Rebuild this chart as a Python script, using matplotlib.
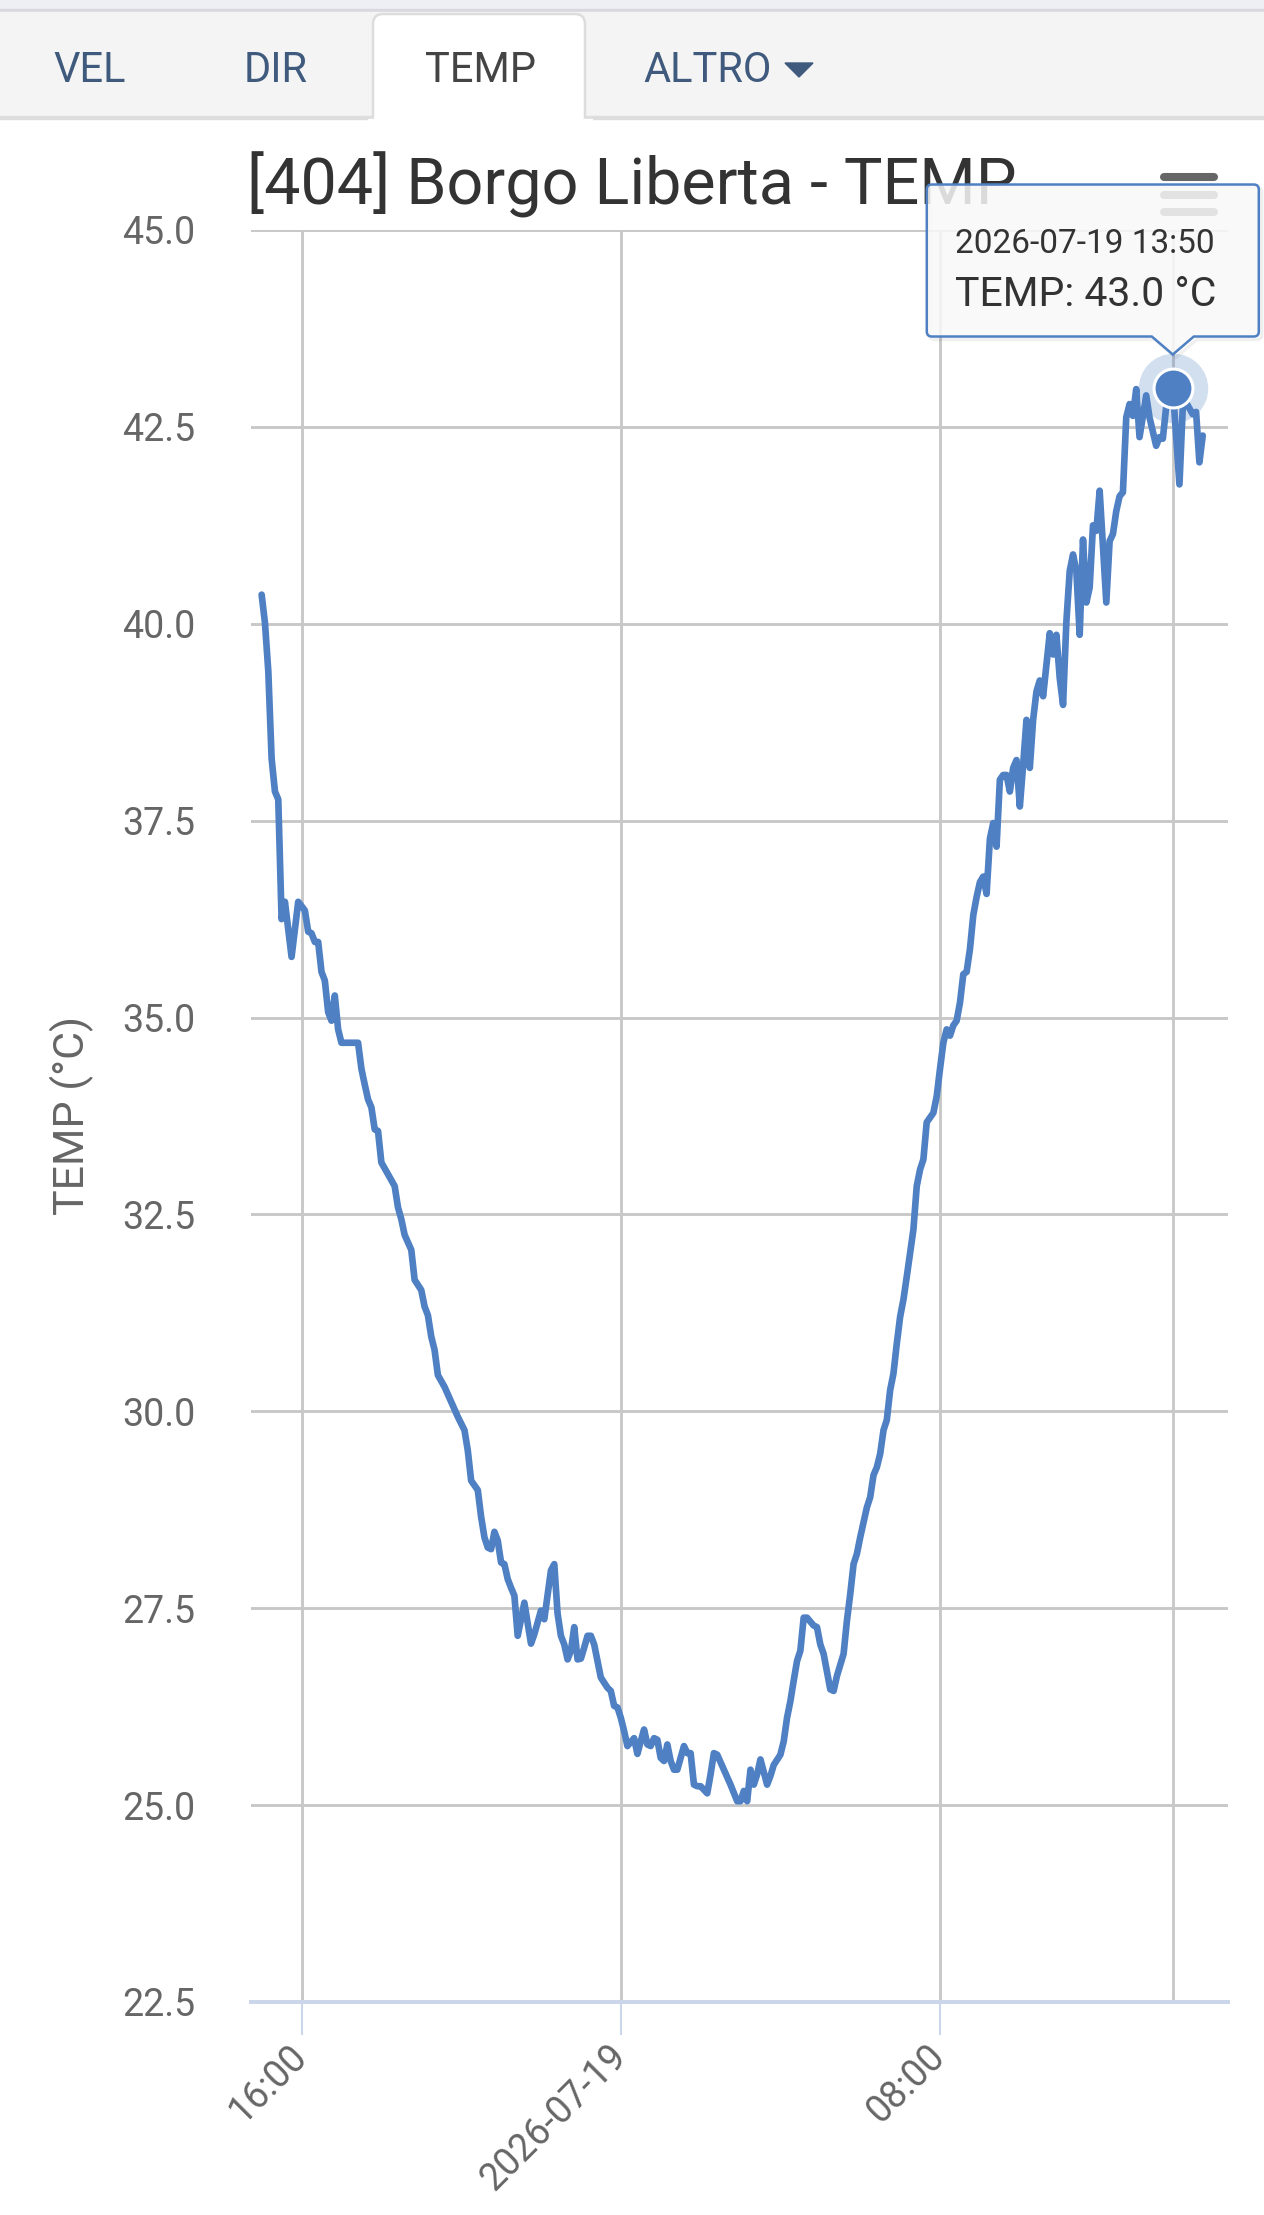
import datetime as dt
import matplotlib
matplotlib.use('Agg')
import matplotlib.pyplot as plt
import matplotlib.dates as mdates
from matplotlib.path import Path
from matplotlib.patches import PathPatch, Rectangle, FancyBboxPatch, Polygon

plt.rcParams['font.family'] = ['Roboto', 'DejaVu Sans']

# dati
station = '[404] Borgo Liberta'
variable = 'TEMP'
unit = '°C'
tabs = ['VEL', 'DIR', 'TEMP', 'ALTRO']
start_day = dt.date(2026, 7, 18)

times = ['15:00', '15:05', '15:10', '15:15', '15:20', '15:25', '15:30', '15:35', '15:45', '15:55',
         '16:05', '16:10', '16:15', '16:20', '16:25', '16:30', '16:35', '16:40', '16:45', '16:50', '16:55',
         '17:00', '17:25', '17:30', '17:35', '17:40', '17:45', '17:50', '17:55',
         '18:00', '18:10', '18:20', '18:25', '18:30', '18:35', '18:45', '18:50',
         '19:00', '19:05', '19:10', '19:15', '19:20', '19:25', '19:35', '19:45', '19:55',
         '20:05', '20:10', '20:15', '20:25', '20:30', '20:35', '20:40', '20:45', '20:50', '20:55',
         '21:00', '21:05', '21:10', '21:15', '21:20', '21:25', '21:35', '21:45', '21:50',
         '22:00', '22:05', '22:15', '22:20', '22:25', '22:30', '22:35', '22:40', '22:45', '22:50', '22:55',
         '23:00', '23:05', '23:10', '23:15', '23:20', '23:25', '23:30', '23:40', '23:45', '23:50', '23:55',
         '00:00', '00:05', '00:10', '00:20', '00:25', '00:30', '00:35', '00:40', '00:45', '00:50', '00:55',
         '01:00', '01:05', '01:10', '01:15', '01:20', '01:25', '01:30', '01:35', '01:40', '01:45', '01:50', '01:55',
         '02:00', '02:10', '02:15', '02:20', '02:25', '02:35', '02:45', '02:55',
         '03:00', '03:05', '03:10', '03:15', '03:20', '03:25', '03:30', '03:40', '03:45', '03:50',
         '04:00', '04:05', '04:10', '04:15', '04:20', '04:25', '04:30', '04:35', '04:40', '04:50', '04:55',
         '05:00', '05:05', '05:15', '05:20', '05:25', '05:35', '05:40', '05:45', '05:50', '05:55',
         '06:00', '06:10', '06:15', '06:20', '06:25', '06:30', '06:35', '06:40', '06:45', '06:50', '06:55',
         '07:00', '07:05', '07:10', '07:15', '07:20', '07:25', '07:30', '07:35', '07:40', '07:50', '07:55',
         '08:00', '08:05', '08:10', '08:15', '08:20', '08:25', '08:30', '08:35', '08:40', '08:45', '08:50', '08:55',
         '09:00', '09:05', '09:10', '09:15', '09:20', '09:25', '09:30', '09:35', '09:40', '09:45', '09:50', '09:55',
         '10:00', '10:05', '10:10', '10:15', '10:20', '10:25', '10:30', '10:35', '10:40', '10:45', '10:50', '10:55',
         '11:00', '11:05', '11:10', '11:15', '11:20', '11:25', '11:30', '11:35', '11:40', '11:45', '11:50', '11:55',
         '12:00', '12:10', '12:15', '12:20', '12:25', '12:30', '12:35', '12:40', '12:45', '12:50', '12:55',
         '13:00', '13:10', '13:15', '13:25', '13:30', '13:35', '13:40', '13:45', '13:50',
         '14:00', '14:05', '14:10', '14:20', '14:25', '14:30', '14:35']
temps = [40.37, 40.01, 39.40, 38.29, 37.87, 37.77, 36.25, 36.47, 35.77, 36.47,
         36.36, 36.09, 36.07, 35.96, 35.96, 35.58, 35.47, 35.07, 34.96, 35.28, 34.85,
         34.68, 34.68, 34.35, 34.15, 33.96, 33.86, 33.58, 33.56,
         33.16, 33.01, 32.86, 32.59, 32.44, 32.24, 32.05, 31.67,
         31.54, 31.33, 31.22, 30.95, 30.78, 30.46, 30.31, 30.12, 29.93,
         29.76, 29.50, 29.12, 29.00, 28.66, 28.40, 28.27, 28.25, 28.47, 28.36,
         28.08, 28.06, 27.87, 27.76, 27.66, 27.15, 27.57, 27.05, 27.17,
         27.47, 27.36, 27.98, 28.06, 27.43, 27.15, 27.04, 26.85, 26.96, 27.26, 26.85,
         26.86, 27.00, 27.15, 27.15, 27.04, 26.83, 26.62, 26.49, 26.45, 26.26, 26.24,
         26.11, 25.94, 25.75, 25.85, 25.65, 25.81, 25.96, 25.77, 25.75, 25.85, 25.83,
         25.60, 25.56, 25.77, 25.56, 25.45, 25.45, 25.60, 25.75, 25.66, 25.66, 25.26, 25.24,
         25.24, 25.15, 25.39, 25.66, 25.64, 25.45, 25.26, 25.05,
         25.05, 25.18, 25.05, 25.45, 25.26, 25.39, 25.58, 25.26, 25.37, 25.51,
         25.64, 25.81, 26.11, 26.32, 26.58, 26.83, 26.96, 27.38, 27.38, 27.28, 27.26,
         27.04, 26.92, 26.47, 26.45, 26.64, 26.92, 27.34, 27.68, 28.06, 28.19,
         28.40, 28.78, 28.91, 29.19, 29.29, 29.46, 29.76, 29.89, 30.27, 30.48, 30.86,
         31.20, 31.42, 31.71, 32.01, 32.31, 32.86, 33.07, 33.20, 33.67, 33.79, 34.00,
         34.35, 34.68, 34.85, 34.77, 34.90, 34.96, 35.19, 35.55, 35.58, 35.87, 36.30, 36.53,
         36.72, 36.79, 36.57, 37.27, 37.47, 37.17, 38.02, 38.08, 38.08, 37.87, 38.17, 38.27,
         37.68, 38.21, 38.78, 38.17, 38.78, 39.14, 39.28, 39.08, 39.48, 39.88, 39.61, 39.86,
         39.31, 38.97, 40.03, 40.67, 40.88, 40.67, 39.86, 41.07, 40.27, 40.46, 41.25, 41.18,
         41.69, 40.27, 41.05, 41.14, 41.43, 41.62, 41.67, 42.62, 42.79, 42.64, 42.98,
         42.37, 42.90, 42.62, 42.26, 42.37, 42.35, 42.75, 42.96, 43.00,
         41.77, 42.75, 42.81, 42.66, 42.69, 42.05, 42.39]

hover_time = '13:50'
tick_dates = [dt.datetime(2026, 7, 18, 16, 0), dt.datetime(2026, 7, 19, 0, 0), dt.datetime(2026, 7, 19, 8, 0)]
tick_labels = ['16:00', '2026-07-19', '08:00']
y_ticks = [22.5, 25.0, 27.5, 30.0, 32.5, 35.0, 37.5, 40.0, 42.5, 45.0]
x_range = [dt.datetime(2026, 7, 18, 14, 44), dt.datetime(2026, 7, 19, 15, 13)]

# orari -> datetime (cambio giorno a mezzanotte)
stamps = []
day = start_day
prev = None
for t in times:
    h, m = map(int, t.split(':'))
    if prev is not None and (h, m) < prev:
        day += dt.timedelta(days=1)
    prev = (h, m)
    stamps.append(dt.datetime(day.year, day.month, day.day, h, m))

line_color = '#4e80c3'
W, H = 1264, 2215

fig = plt.figure(figsize=(W / 100, H / 100), dpi=100, facecolor='white')

# barra delle schede
bg = fig.add_axes([0, 0, 1, 1], zorder=0)
bg.set_xlim(0, W)
bg.set_ylim(H, 0)
bg.axis('off')
bg.add_patch(Rectangle((0, 0), W, 10, color='#eeeff4'))
bg.add_patch(Rectangle((0, 9), W, 2.5, color='#d8d8de'))
bg.add_patch(Rectangle((0, 11.5), W, 106, color='#f4f4f4'))
bg.add_patch(Rectangle((0, 116), W, 3, color='#dddddd'))
bg.add_patch(FancyBboxPatch((373, 14), 212, 130, boxstyle='round,pad=0,rounding_size=10',
                            fc='white', ec='#dddddd', lw=1.8))
bg.add_patch(Rectangle((368, 119), 224, 40, color='white'))
tab_x = [90, 276, 480, 708]
for name, x in zip(tabs, tab_x):
    c = '#444444' if name == variable else '#3f5a7d'
    bg.text(x, 82, name, ha='center', va='baseline', fontsize=30, color=c)
bg.add_patch(Polygon([(785, 63), (813, 63), (799, 77)], closed=True, color='#3f5a7d'))

# grafico
ax = fig.add_axes([251 / W, 1 - 2002 / H, 977 / W, 1772 / H], zorder=1)
ax.set_facecolor('white')
xs = mdates.date2num(stamps)
ax.plot(xs, temps, color=line_color, lw=4.8, solid_joinstyle='round',
        solid_capstyle='round', zorder=3)

i_hover = times.index(hover_time)
hx, hy = xs[i_hover], temps[i_hover]
ax.axvline(hx, color='#c8c8c8', lw=2.0, zorder=2)
ax.plot([hx], [hy], 'o', ms=50, color=line_color, alpha=0.25, mec='none', zorder=4, clip_on=False)
ax.plot([hx], [hy], 'o', ms=28, mfc=line_color, mec='white', mew=2.2, zorder=5, clip_on=False)

ax.set_xlim(mdates.date2num(x_range[0]), mdates.date2num(x_range[1]))
ax.set_ylim(22.5, 45)
ax.set_yticks(y_ticks)
ax.set_yticklabels(['%.1f' % v for v in y_ticks])
ax.set_xticks(mdates.date2num(tick_dates))
ax.set_xticklabels(tick_labels, rotation=45, ha='right', va='center', rotation_mode='anchor')
ax.grid(True, color='#c8c8c8', lw=2.1)
ax.set_axisbelow(True)
for s in ['top', 'right', 'left']:
    ax.spines[s].set_visible(False)
ax.spines['bottom'].set_color('#ccd6eb')
ax.spines['bottom'].set_linewidth(2.9)
ax.spines['bottom'].set_zorder(2.5)
ax.tick_params(axis='x', direction='out', length=24, width=1.5, color='#ccd6eb',
               pad=11, labelsize=27, labelcolor='#666666')
ax.tick_params(axis='y', length=0, pad=40, labelsize=27, labelcolor='#666666')

fig.text(72 / W, 1 - 1115 / H, '%s (%s)' % (variable, unit), rotation=90,
         ha='center', va='center', fontsize=31, color='#666666')

# titolo, menu e tooltip
ov = fig.add_axes([0, 0, 1, 1], zorder=5)
ov.set_xlim(0, W)
ov.set_ylim(H, 0)
ov.axis('off')
ov.patch.set_alpha(0)

ov.text(W / 2, 204, '%s - %s' % (station, variable), ha='center', va='baseline',
        fontsize=46.5, color='#333333', zorder=1)
for yb in [177, 194.5, 212]:
    ov.plot([1164, 1214], [yb, yb], color='#666666', lw=5.8, solid_capstyle='round', zorder=2)

dx, dy = ax.transData.transform((hx, hy))
px, py = dx, H - dy
L, R = px - 246, px + 86
T, B = py - 203, py - 51
tip = py - 33
r = 5
verts = [(L + r, T), (R - r, T), (R, T), (R, T + r),
         (R, B - r), (R, B), (R - r, B),
         (px + 21, B), (px, tip), (px - 21, B),
         (L + r, B), (L, B), (L, B - r),
         (L, T + r), (L, T), (L + r, T), (L + r, T)]
codes = [Path.MOVETO, Path.LINETO, Path.CURVE3, Path.CURVE3,
         Path.LINETO, Path.CURVE3, Path.CURVE3,
         Path.LINETO, Path.LINETO, Path.LINETO,
         Path.LINETO, Path.CURVE3, Path.CURVE3,
         Path.LINETO, Path.CURVE3, Path.CURVE3, Path.CLOSEPOLY]
sh = Path([(vx + 3, vy + 3) for vx, vy in verts], codes)
ov.add_patch(PathPatch(sh, fc='none', ec='black', lw=2.5, alpha=0.06, zorder=3))
ov.add_patch(PathPatch(Path(verts, codes), fc=(0.975, 0.975, 0.975, 0.85), ec=line_color,
                       lw=1.8, zorder=4))

hover_dt = stamps[i_hover]
ov.text(L + 28, py - 135, hover_dt.strftime('%Y-%m-%d %H:%M'), ha='left', va='baseline',
        fontsize=24, color='#333333', zorder=5)
ov.text(L + 28, py - 82, '%s: %.1f %s' % (variable, hy, unit), ha='left', va='baseline',
        fontsize=29.5, color='#333333', zorder=5)

fig.savefig('out.png', dpi=100, facecolor='white')
